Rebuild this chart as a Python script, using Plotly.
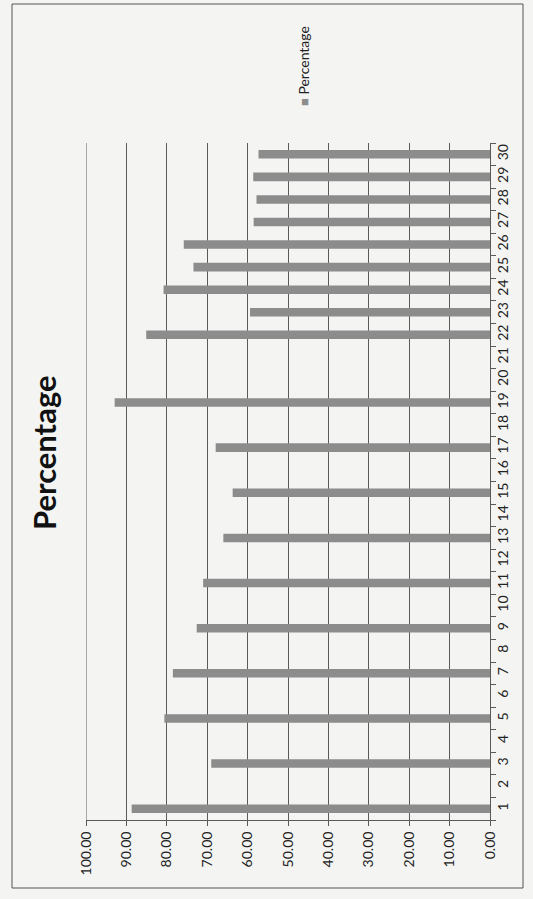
import plotly.graph_objects as go

categories = [str(i) for i in range(1, 31)]
percentage = [88.7, None, 69.0, None, 80.6, None, 78.5, None, 72.6, None,
              71.0, None, 66.0, None, 63.7, None, 67.9, None, 92.9, None,
              None, 85.1, 59.4, 80.8, 73.4, 75.8, 58.5, 57.8, 58.6, 57.3]
value_ticks = [0, 10, 20, 30, 40, 50, 60, 70, 80, 90, 100]

FONT = "Lato"
BAR = "#8c8c8c"
GRID = "#5a5a5a"
BG = "#f4f4f2"

fig = go.Figure()
fig.add_trace(go.Bar(
    x=percentage, y=categories, orientation="h", width=0.38,
    marker=dict(color=BAR, line=dict(width=0)), name="Percentage",
    showlegend=False,
))

L, R, T, B = 86, 43, 143, 79
W, H = 533, 899
pw, ph = W - L - R, H - T - B

def px(p):
    return (p - L) / pw

def py(p):
    return (H - B - p) / ph

fig.update_layout(
    width=W, height=H,
    margin=dict(l=L, r=R, t=T, b=B, pad=0),
    paper_bgcolor=BG, plot_bgcolor=BG,
    font=dict(family=FONT, size=14, color="#222"),
    xaxis=dict(
        range=[100, 0], tickvals=value_ticks, tickformat=".2f",
        tickangle=-90, showgrid=True, gridcolor=GRID, gridwidth=1,
        zeroline=False, showline=True, linecolor=GRID, linewidth=1,
        ticks="outside", ticklen=5, tickcolor=GRID, tickfont=dict(size=14),
        automargin=False,
    ),
    yaxis=dict(
        type="category", categoryorder="array", categoryarray=categories,
        range=[-0.5, 29.5], side="right", tickangle=-90,
        showgrid=False, zeroline=False, showline=True, linecolor=GRID,
        linewidth=1, ticks="outside", ticklen=5, tickcolor=GRID,
        tickson="boundaries", tickfont=dict(size=14), automargin=False,
    ),
)

# gridline at the left end of the value range (plotly clips edge gridlines)
fig.add_shape(
    type="line", xref="x", yref="paper",
    x0=value_ticks[-1], x1=value_ticks[-1], y0=0, y1=1,
    line=dict(color=GRID, width=1), layer="below",
)

fig.add_annotation(
    text="<b>Percentage</b>", textangle=-90, showarrow=False,
    xref="paper", yref="paper", x=px(44), y=py(453),
    xanchor="center", yanchor="middle",
    font=dict(family=FONT, size=31, color="#111"),
)
fig.add_annotation(
    text='<span style="color:#8c8c8c;font-size:13px">■</span> Percentage',
    textangle=-90, showarrow=False,
    xref="paper", yref="paper", x=px(303), y=py(66),
    xanchor="center", yanchor="middle",
    font=dict(family=FONT, size=14, color="#222"),
)
fig.add_shape(
    type="rect", xref="paper", yref="paper",
    x0=px(12), x1=px(523), y0=py(888), y1=py(4),
    line=dict(color="#555", width=1), fillcolor="rgba(0,0,0,0)",
)

fig.write_html("out.html", config={"displayModeBar": False},
               post_script="document.body.style.margin='0px';")
